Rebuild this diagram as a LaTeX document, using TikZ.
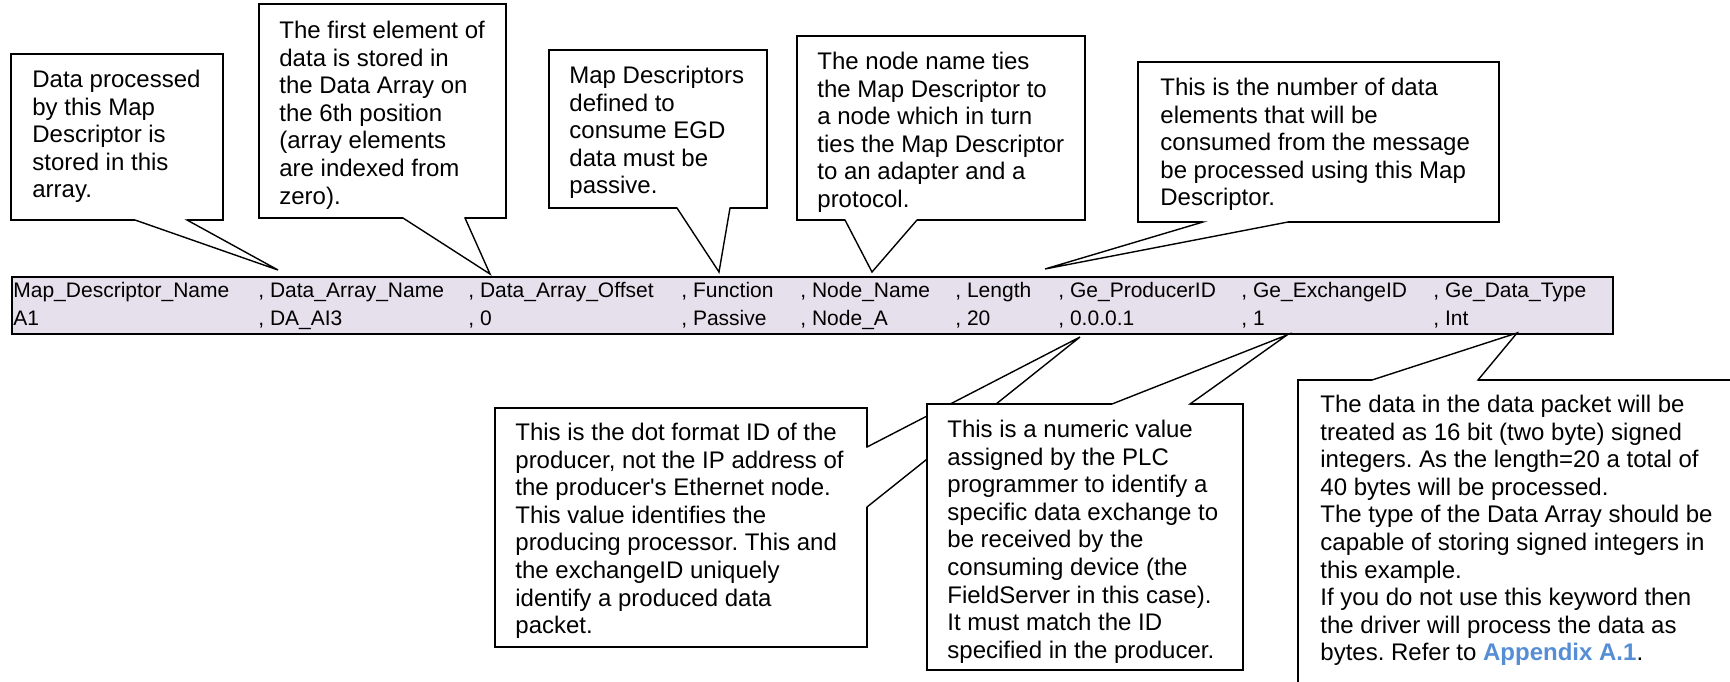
\documentclass[tikz,border=0pt]{standalone}
\usepackage{fontspec}
\setmainfont{Liberation Sans}
\frenchspacing
\definecolor{tablefill}{RGB}{229,224,236}
\definecolor{linkblue}{RGB}{85,142,213}
\newcommand\tl{\rule{0pt}{9pt}}
% name, x1, y1, x2, y2, base left, base right, tip
\newcommand\bottomcallout[8]{%
  \coordinate (#1tip) at #8;
  \filldraw[calloutshape] (#2,#3) -- (#4,#3) -- (#4,#5) -- (#7,#5) -- (#1tip) -- (#6,#5) -- (#2,#5) -- cycle;
  \draw[boxedge] (#7,#5) -- (#4,#5) -- (#4,#3) -- (#2,#3) -- (#2,#5) -- (#6,#5);
}
\newcommand\topcallout[8]{%
  \coordinate (#1tip) at #8;
  \filldraw[calloutshape] (#2,#5) -- (#2,#3) -- (#6,#3) -- (#1tip) -- (#7,#3) -- (#4,#3) -- (#4,#5) -- cycle;
  \draw[boxedge] (#6,#3) -- (#2,#3) -- (#2,#5) -- (#4,#5) -- (#4,#3) -- (#7,#3);
}
% name, x1, y1, x2, y2, base top y, base bottom y, tip (tail on right edge)
\newcommand\rightcallout[8]{%
  \coordinate (#1tip) at #8;
  \filldraw[calloutshape] (#2,#3) -- (#4,#3) -- (#4,#6) -- (#1tip) -- (#4,#7) -- (#4,#5) -- (#2,#5) -- cycle;
  \draw[boxedge] (#4,#6) -- (#4,#3) -- (#2,#3) -- (#2,#5) -- (#4,#5) -- (#4,#7);
}
\tikzset{
  calloutshape/.style={fill=white, draw=black, line width=0.7pt, line join=miter},
  boxedge/.style={draw=black, line width=1.05pt},
  ctext/.style={anchor=north west, inner sep=0pt, align=left, font=\fontsize{12}{13.8}\selectfont},
  ttext/.style={anchor=base west, inner sep=0pt, font=\fontsize{10.5}{12}\selectfont},
  tablebox/.style={draw=black, line width=1.2pt, fill=tablefill, anchor=north west, inner sep=0pt, minimum width=800.6pt, minimum height=28.5pt},
}
\begin{document}
\begin{tikzpicture}[x=0.5pt, y=-0.5pt]
\clip (0,0) rectangle (1730,681);

% table
\node[tablebox] (tbl) at (10.7,276) {};
\node[ttext] (h1) at (13,297) {Map\_Descriptor\_Name};
\node[ttext] (h2) at (258,297) {, Data\_Array\_Name};
\node[ttext] (h3) at (468,297) {, Data\_Array\_Offset};
\node[ttext] (h4) at (681,297) {, Function};
\node[ttext] (h5) at (800,297) {, Node\_Name};
\node[ttext] (h6) at (955,297) {, Length};
\node[ttext] (h7) at (1058,297) {, Ge\_ProducerID};
\node[ttext] (h8) at (1241,297) {, Ge\_ExchangeID};
\node[ttext] (h9) at (1433,297) {, Ge\_Data\_Type};
\node[ttext] (v1) at (13,325) {A1};
\node[ttext] (v2) at (258,325) {, DA\_AI3};
\node[ttext] (v3) at (468,325) {, 0};
\node[ttext] (v4) at (681,325) {, Passive};
\node[ttext] (v5) at (800,325) {, Node\_A};
\node[ttext] (v6) at (955,325) {, 20};
\node[ttext] (v7) at (1058,325) {, 0.0.0.1};
\node[ttext] (v8) at (1241,325) {, 1};
\node[ttext] (v9) at (1433,325) {, Int};

% upper callouts
\bottomcallout{c1}{10.7}{54}{223}{220}{135}{187}{(278,270)}
\node[ctext] (t1) at (32,69) {\tl Data processed\\by this Map\\Descriptor is\\stored in this\\array.};

\bottomcallout{c2}{259}{4}{506}{218}{403}{465}{(490,274)}
\node[ctext] (t2) at (279,20) {\tl The first element of\\data is stored in\\the Data Array on\\the 6th position\\(array elements\\are indexed from\\zero).};

\bottomcallout{c3}{549}{50}{767}{208}{677}{730}{(719,272)}
\node[ctext] (t3) at (569,65) {\tl Map Descriptors\\defined to\\consume EGD\\data must be\\passive.};

\bottomcallout{c4}{797}{36}{1085}{220}{845}{917}{(872,272)}
\node[ctext] (t4) at (817,51) {\tl The node name ties\\the Map Descriptor to\\a node which in turn\\ties the Map Descriptor\\to an adapter and a\\protocol.};

\bottomcallout{c5}{1138}{62}{1499}{222}{1203}{1288}{(1045,269)}
\node[ctext] (t5) at (1160,77) {\tl This is the number of data\\elements that will be\\consumed from the message\\be processed using this Map\\Descriptor.};

% lower callouts
\rightcallout{c6}{495}{408}{867}{647}{447}{507}{(1080,337)}
\node[ctext] (t6) at (515,422) {\tl This is the dot format ID of the\\producer, not the IP address of\\the producer\textquotesingle s Ethernet node.\\This value identifies the\\producing processor. This and\\the exchangeID uniquely\\identify a produced data\\packet.};

\topcallout{c7}{927}{404}{1243}{670}{1112}{1190}{(1287,335)}
\node[ctext] (t7) at (947,419) {\tl This is a numeric value\\assigned by the PLC\\programmer to identify a\\specific data exchange to\\be received by the\\consuming device (the\\FieldServer in this case).\\It must match the ID\\specified in the producer.};

\topcallout{c8}{1298}{380}{1760}{720}{1372}{1478}{(1517,333)}
\node[ctext] (t8) at (1320,394) {\tl The data in the data packet will be\\treated as 16 bit (two byte) signed\\integers. As the length=20 a total of\\40 bytes will be processed.\\The type of the Data Array should be\\capable of storing signed integers in\\this example.\\If you do not use this keyword then\\the driver will process the data as\\bytes. Refer to \textbf{\color{linkblue}Appendix A.1}.};
\end{tikzpicture}
\end{document}
